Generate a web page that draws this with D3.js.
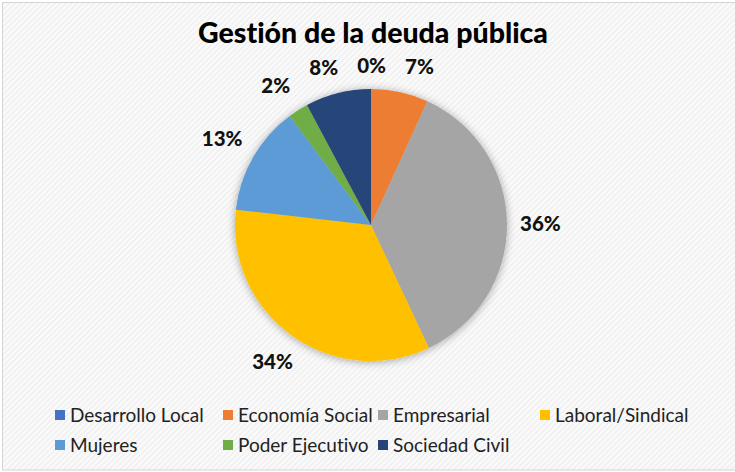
<!DOCTYPE html>
<html>
<head>
<meta charset="utf-8">
<script src="https://cdn.jsdelivr.net/npm/d3@7"></script>
<style>
  html, body { margin: 0; padding: 0; background: #ffffff; }
  svg { display: block; }
  text { font-variant-ligatures: none; font-feature-settings: "liga" 0; }
</style>
</head>
<body>
<svg id="chart" width="735" height="472"></svg>
<script>
// ---- data ----
const title = "Gestión de la deuda pública";
const categories = ["Desarrollo Local", "Economía Social", "Empresarial", "Laboral/Sindical", "Mujeres", "Poder Ejecutivo", "Sociedad Civil"];
const values = [0, 6.8, 36.2, 33.8, 13.0, 2.4, 7.8];
const colors = ["#4472c4", "#ed7d31", "#a5a5a5", "#ffc000", "#5b9bd5", "#70ad47", "#264478"];
const legendRows = [
  ["Desarrollo Local", "Economía Social", "Empresarial", "Laboral/Sindical"],
  ["Mujeres", "Poder Ejecutivo", "Sociedad Civil"]
];

// ---- layout ----
const W = 735, H = 472;
const cx = 371, cy = 225, R = 136;
const FONT = "Lato, 'Liberation Sans', sans-serif";

const svg = d3.select("#chart");
const defs = svg.append("defs");

// background stripes
const pat = defs.append("pattern")
  .attr("id", "stripes").attr("patternUnits", "userSpaceOnUse")
  .attr("width", 4).attr("height", 4)
  .attr("patternTransform", "rotate(45)");
pat.append("rect").attr("width", 4).attr("height", 4).attr("fill", "#fbfbfb");
pat.append("rect").attr("width", 2).attr("height", 4).attr("fill", "#f1f1f1");

const shadow = defs.append("filter").attr("id", "shadow")
  .attr("x", "-30%").attr("y", "-30%").attr("width", "160%").attr("height", "160%");
shadow.append("feGaussianBlur").attr("in", "SourceAlpha").attr("stdDeviation", 4).attr("result", "blur");
shadow.append("feOffset").attr("dx", 0).attr("dy", 1).attr("result", "off");
shadow.append("feComponentTransfer").append("feFuncA").attr("type", "linear").attr("slope", 0.35);
const merge = shadow.append("feMerge");
merge.append("feMergeNode");
merge.append("feMergeNode").attr("in", "SourceGraphic");

svg.append("rect").attr("x", 0).attr("y", 0).attr("width", W).attr("height", H).attr("fill", "#ffffff");
svg.append("rect").attr("x", 2.5).attr("y", 2.5).attr("width", W + 10).attr("height", H - 4.5)
  .attr("fill", "url(#stripes)").attr("stroke", "#d4d4d4").attr("stroke-width", 1);

// title
svg.append("text")
  .attr("x", 373).attr("y", 43)
  .attr("text-anchor", "middle")
  .attr("font-family", FONT).attr("font-weight", 900).attr("font-size", 28.5)
  .attr("fill", "#000")
  .text(title);

// pie
const data = categories.map((c, i) => ({ name: c, value: values[i], color: colors[i] }));
const pie = d3.pie().sort(null).value(d => d.value);
const arcs = pie(data);
const arc = d3.arc().innerRadius(0).outerRadius(R);

const g = svg.append("g").attr("transform", `translate(${cx},${cy})`);
g.append("g").attr("filter", "url(#shadow)")
  .selectAll("path").data(arcs).join("path")
  .attr("d", arc)
  .attr("fill", d => d.data.color)
  .attr("stroke", "none");

// labels (outside end)
const total = d3.sum(values);
const fmt = v => Math.round(v / total * 100) + "%";
const pad = 13;
const labels = g.selectAll("text.lbl").data(arcs).join("text")
  .attr("class", "lbl")
  .attr("font-family", FONT).attr("font-weight", 900).attr("font-size", 20.5)
  .attr("fill", "#111")
  .attr("text-anchor", "middle")
  .text(d => fmt(d.data.value));

const boxes = [];
labels.each(function (d) {
  const a = (d.startAngle + d.endAngle) / 2;
  const bb = this.getBBox();
  const hw = bb.width / 2, hh = 10;
  const dist = R + pad + Math.abs(Math.sin(a)) * hw + Math.abs(Math.cos(a)) * hh;
  boxes.push({ el: this, x: Math.sin(a) * dist, y: -Math.cos(a) * dist, hw, hh });
});
// simple horizontal collision resolution
const gap = 19;
for (let it = 0; it < 60; it++) {
  for (let i = 0; i < boxes.length; i++) {
    for (let j = i + 1; j < boxes.length; j++) {
      const A = boxes[i], B = boxes[j];
      if (Math.abs(A.y - B.y) >= A.hh + B.hh) continue;
      const need = A.hw + B.hw + gap;
      const dx = B.x - A.x;
      if (Math.abs(dx) < need) {
        const push = (need - Math.abs(dx)) / 2 * (dx >= 0 ? 1 : -1);
        A.x -= push; B.x += push;
      }
    }
  }
}
boxes.forEach(b => d3.select(b.el).attr("x", b.x).attr("y", b.y + 7));

// legend
const colX = [55, 223, 378, 540];
const rowY = [415, 445];
const legend = svg.append("g");
legendRows.forEach((row, ri) => {
  row.forEach((name, ci) => {
    const i = categories.indexOf(name);
    const it = legend.append("g").attr("transform", `translate(${colX[ci]},${rowY[ri]})`);
    it.append("rect").attr("x", 0).attr("y", -5).attr("width", 10).attr("height", 10).attr("fill", colors[i]);
    it.append("text").attr("x", 15).attr("y", 7)
      .attr("font-family", FONT).attr("font-size", 19).attr("fill", "#222")
      .text(name);
  });
});
</script>
</body>
</html>
